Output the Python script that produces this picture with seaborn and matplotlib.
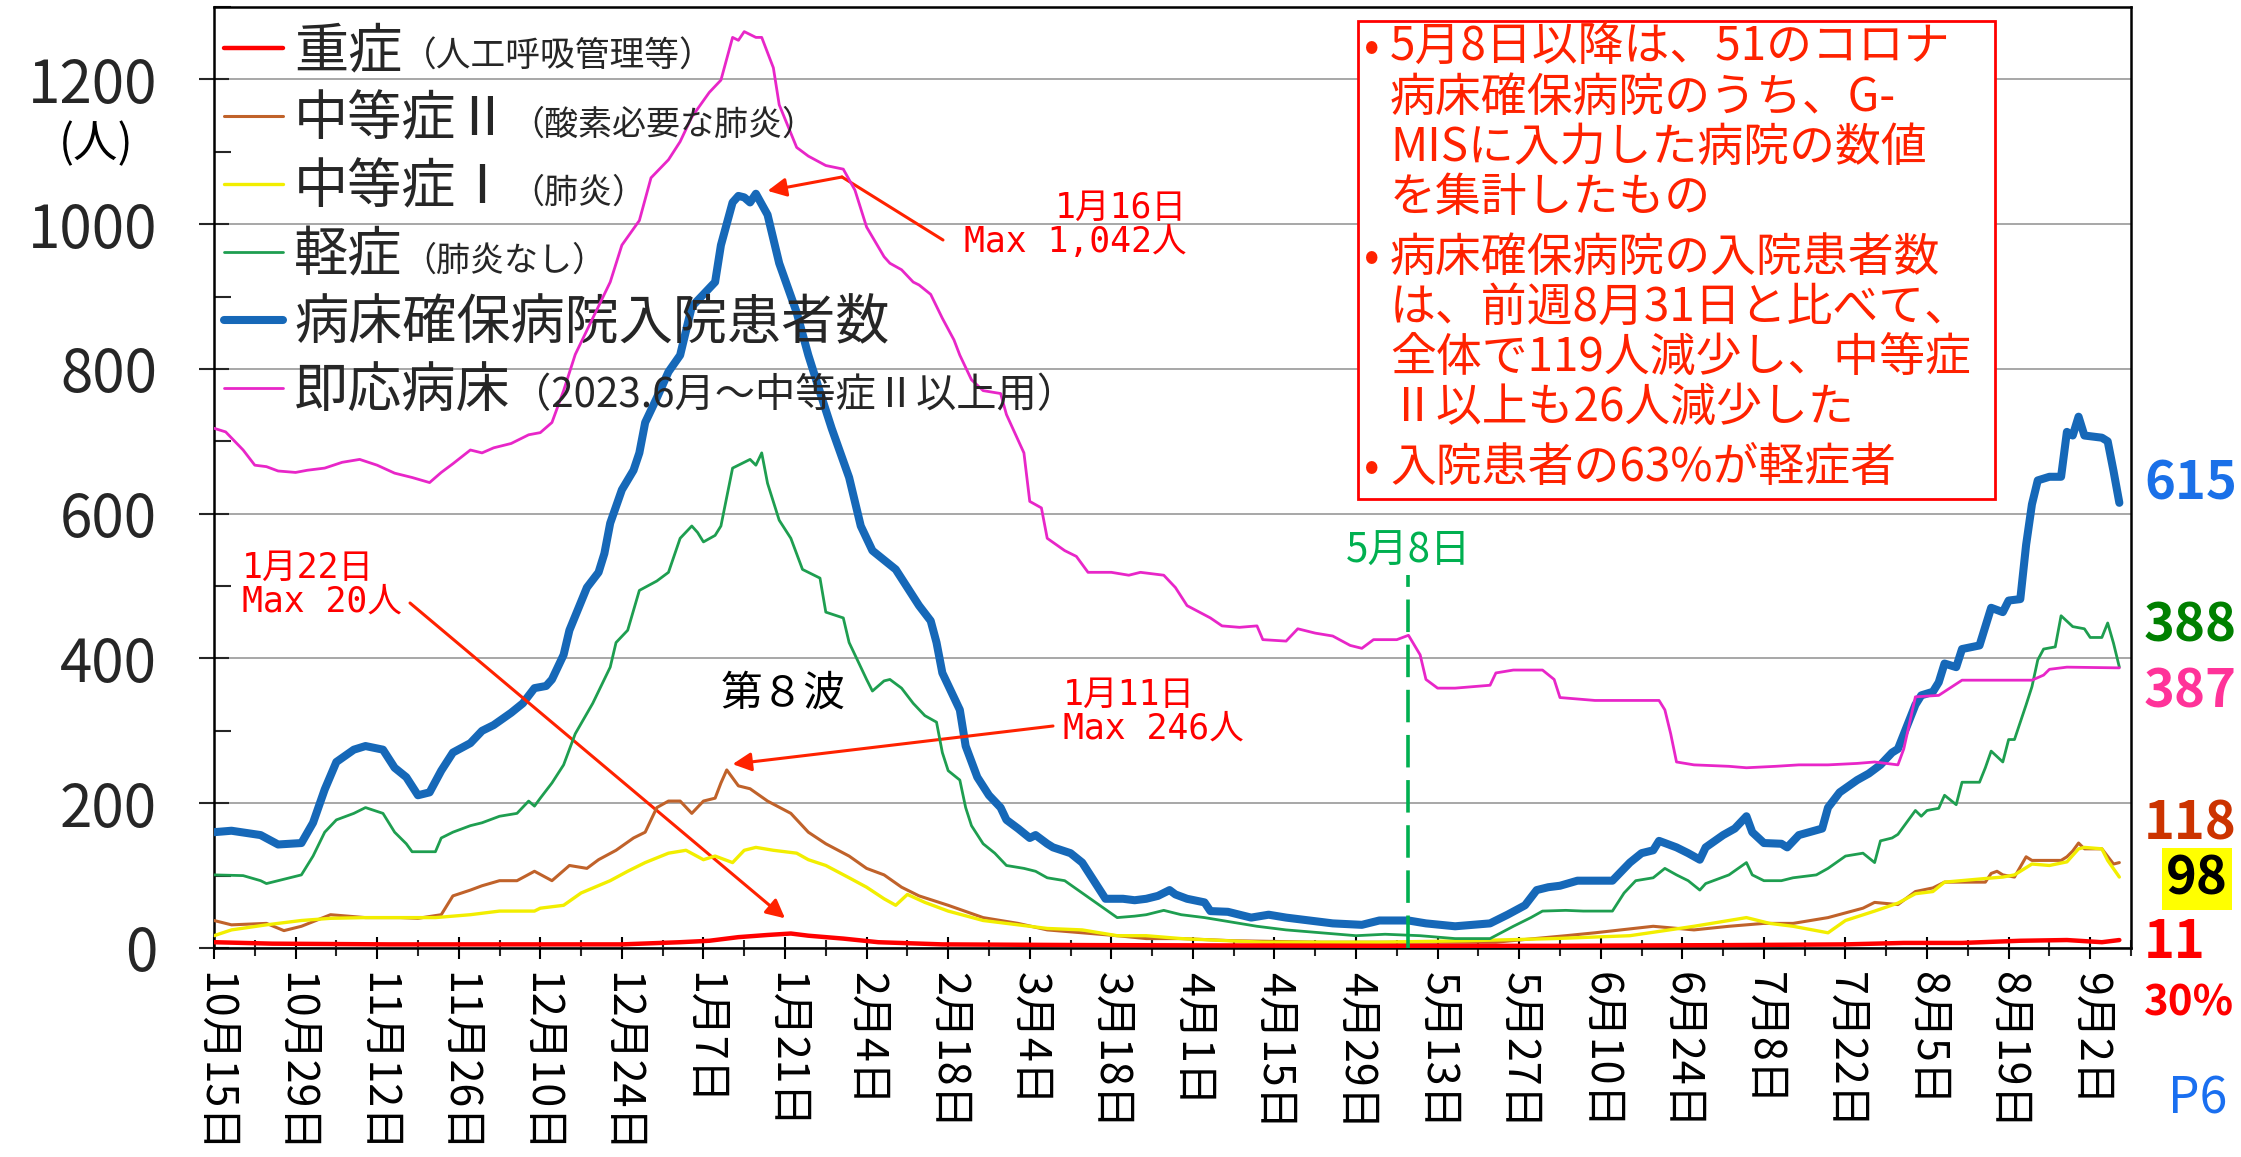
import numpy as np
import pandas as pd
import matplotlib
matplotlib.use("Agg")
import matplotlib.pyplot as plt
from matplotlib import font_manager
from matplotlib.patches import Rectangle
from matplotlib.transforms import IdentityTransform
import seaborn as sns

# 横軸: 2022年10月15日からの経過日数, 縦軸: 入院患者数(人) - グラフから読み取り
tick_labels = ["10月15日", "10月29日", "11月12日", "11月26日", "12月10日", "12月24日",
               "1月7日", "1月21日", "2月4日", "2月18日", "3月4日", "3月18日",
               "4月1日", "4月15日", "4月29日", "5月13日", "5月27日", "6月10日",
               "6月24日", "7月8日", "7月22日", "8月5日", "8月19日", "9月2日"]

# 重症
severe_day = [0, 10, 30, 56, 70, 80, 85, 90, 95, 99, 102, 108, 114, 125, 150, 200,
              230, 260, 280, 290, 300, 310, 318, 324, 327]
severe_val = [8, 6, 5, 5, 5, 8, 10, 15, 18, 20, 17, 13, 8, 5, 4, 3,
              3, 4, 5, 7, 7, 10, 11, 8, 11]

# 中等症Ⅱ
mod2_day = [0, 3, 9, 12, 15, 20, 26, 32, 35, 39, 41, 44, 46, 49, 52, 55, 58, 61, 64, 66,
            69, 72, 74, 76, 78, 80, 82, 84, 86, 87, 88, 90, 92, 95, 99, 102, 105, 109, 112,
            115, 118, 121, 126, 132, 138, 143, 149, 155, 160, 166, 175, 190, 205, 220, 232,
            237, 247, 254, 260, 266, 271, 277, 283, 285, 289, 292, 295, 297, 304, 305, 306,
            307, 309, 311, 312, 317, 318, 319, 320, 321, 324, 326, 327]
mod2_val = [38, 32, 34, 24, 30, 46, 42, 42, 41, 46, 72, 80, 86, 93, 93, 106, 93, 114, 110, 122,
            135, 152, 160, 194, 203, 203, 186, 203, 207, 228, 246, 224, 220, 203, 186, 160, 144, 127, 110,
            101, 84, 72, 59, 42, 34, 25, 21, 17, 13, 13, 10, 8, 8, 8, 17,
            21, 30, 25, 30, 34, 34, 42, 55, 63, 60, 78, 83, 91, 91, 103, 106,
            101, 98, 126, 121, 121, 126, 134, 145, 137, 137, 116, 118]

# 中等症Ⅰ
mod1_day = [0, 3, 9, 15, 20, 26, 32, 38, 44, 49, 55, 56, 60, 63, 68, 71, 74, 78, 81, 84,
            86, 89, 91, 93, 96, 100, 102, 105, 109, 112, 115, 117, 119, 122, 126, 132, 138,
            143, 149, 155, 160, 166, 174, 180, 200, 215, 230, 243, 254, 260, 263, 267, 271,
            277, 280, 285, 289, 292, 295, 297, 304, 307, 309, 312, 315, 318, 320, 321, 324,
            325, 327]
mod1_val = [17, 25, 32, 38, 41, 42, 42, 42, 46, 51, 51, 55, 59, 76, 93, 106, 118, 131, 135, 122,
            127, 118, 135, 139, 135, 131, 122, 114, 97, 84, 68, 59, 74, 63, 51, 38, 32,
            27, 25, 17, 17, 13, 10, 8, 8, 10, 13, 17, 30, 38, 42, 34, 30,
            21, 38, 51, 62, 75, 78, 91, 96, 98, 101, 116, 114, 119, 137, 139, 137,
            121, 98]

# 軽症
mild_day = [0, 5, 8, 9, 11, 15, 17, 19, 21, 24, 26, 29, 31, 33, 34, 38, 39, 41, 44, 46,
            49, 52, 54, 55, 56, 58, 60, 62, 65, 68, 69, 71, 73, 76, 78, 80, 82, 83, 84, 86,
            87, 89, 91, 92, 93, 94, 95, 97, 99, 101, 104, 105, 108, 109, 112, 113, 115, 116,
            118, 120, 122, 124, 125, 126, 128, 129, 130, 132, 134, 136, 139, 141, 143, 146,
            149, 152, 155, 158, 160, 163, 166, 170, 173, 179, 184, 190, 196, 201, 207, 213,
            219, 223, 226, 228, 232, 235, 240, 242, 244, 247, 249, 251, 253, 255, 256, 260,
            263, 264, 266, 269, 271, 275, 277, 280, 283, 285, 286, 288, 289, 292, 293, 294,
            296, 297, 299, 300, 303, 304, 305, 307, 308, 309, 311, 312, 313, 314, 316, 317,
            319, 321, 322, 324, 325, 326, 327]
mild_val = [101, 100, 93, 89, 93, 101, 127, 160, 177, 186, 194, 186, 160, 144, 133, 133, 152, 160, 169, 173,
            182, 186, 203, 196, 207, 228, 253, 296, 338, 388, 422, 439, 494, 507, 519, 566, 583, 574, 561, 570,
            583, 663, 671, 675, 667, 684, 642, 591, 566, 523, 511, 464, 456, 422, 371, 355, 369, 371,
            359, 338, 321, 312, 270, 245, 232, 194, 169, 144, 131, 114, 110, 106, 97, 93,
            76, 59, 42, 44, 46, 52, 46, 42, 38, 30, 25, 21, 17, 19, 17, 13,
            13, 30, 42, 51, 52, 51, 51, 76, 93, 97, 110, 101, 93, 80, 89, 101,
            118, 101, 93, 93, 97, 101, 110, 127, 131, 118, 148, 152, 157, 190, 182, 190,
            193, 211, 198, 229, 229, 249, 272, 257, 288, 288, 336, 361, 398, 413, 416, 459,
            444, 441, 429, 429, 449, 421, 388]

# 病床確保病院入院患者数
total_day = [0, 3, 8, 11, 15, 17, 19, 21, 24, 26, 29, 31, 33, 35, 37, 39, 41, 44, 46, 48,
             51, 53, 55, 57, 58, 60, 61, 64, 66, 67, 68, 70, 72, 73, 74, 76, 78, 80, 82, 84,
             86, 87, 89, 90, 91, 92, 93, 95, 97, 100, 102, 104, 106, 109, 111, 113, 115, 117,
             119, 121, 123, 124, 125, 127, 128, 129, 131, 133, 135, 136, 138, 140, 141, 143,
             144, 147, 149, 151, 153, 156, 158, 160, 162, 164, 165, 167, 170, 171, 174, 178,
             181, 184, 188, 192, 197, 200, 205, 208, 213, 219, 222, 225, 227, 229, 231, 234,
             240, 243, 245, 247, 248, 251, 253, 255, 256, 259, 261, 263, 264, 266, 269, 270,
             272, 276, 277, 279, 282, 284, 286, 288, 289, 292, 293, 295, 296, 297, 299, 300,
             303, 305, 307, 308, 310, 311, 312, 313, 315, 317, 318, 319, 320, 321, 324, 325,
             326, 327]
total_val = [160, 162, 156, 143, 145, 173, 219, 257, 274, 279, 274, 249, 236, 211, 215, 245, 270, 283, 300, 308,
             325, 338, 359, 362, 371, 405, 439, 498, 519, 545, 587, 633, 660, 684, 726, 760, 796, 819, 886, 903,
             920, 971, 1030, 1039, 1037, 1030, 1042, 1013, 946, 878, 819, 768, 718, 650, 583, 549, 536, 523,
             498, 473, 452, 422, 380, 346, 329, 279, 236, 211, 194, 177, 165, 152, 156, 144,
             139, 131, 118, 93, 68, 68, 66, 68, 72, 80, 74, 68, 63, 51, 50, 42,
             46, 42, 38, 34, 32, 38, 38, 34, 30, 34, 46, 59, 80, 84, 86, 93,
             93, 118, 131, 135, 148, 139, 131, 122, 139, 156, 165, 182, 160, 145, 144, 139,
             156, 165, 194, 215, 232, 241, 253, 270, 275, 336, 349, 354, 367, 393, 388, 413,
             418, 470, 464, 480, 482, 557, 613, 646, 651, 651, 713, 708, 734, 708, 705, 700,
             659, 615]

# 即応病床
beds_day = [0, 2, 5, 7, 9, 11, 14, 16, 19, 22, 25, 28, 31, 34, 37, 39, 41, 44, 46, 48,
            51, 54, 56, 58, 60, 62, 65, 68, 70, 73, 75, 78, 80, 82, 85, 87, 89, 90, 91, 93,
            94, 96, 97, 100, 102, 105, 108, 110, 112, 115, 116, 118, 120, 121, 123, 125, 127,
            128, 130, 132, 135, 136, 139, 140, 142, 143, 146, 148, 150, 154, 157, 159, 163,
            165, 167, 171, 173, 176, 179, 180, 184, 186, 189, 192, 195, 197, 199, 203, 205,
            207, 208, 210, 213, 216, 219, 220, 223, 228, 230, 231, 237, 248, 249, 250, 251,
            254, 260, 263, 268, 272, 277, 282, 285, 289, 290, 292, 296, 300, 312, 314, 315,
            318, 327]
beds_val = [718, 713, 688, 667, 665, 659, 657, 660, 663, 671, 675, 667, 656, 650, 643, 657, 669, 688, 684, 691,
            697, 709, 712, 726, 770, 820, 870, 920, 971, 1005, 1064, 1089, 1114, 1148, 1182, 1199, 1258, 1254, 1266, 1258,
            1258, 1216, 1165, 1106, 1094, 1081, 1076, 1047, 996, 955, 946, 937, 920, 916, 903, 870, 840,
            819, 785, 770, 766, 737, 684, 617, 608, 566, 549, 541, 519, 519, 515, 519, 515,
            498, 473, 456, 445, 443, 445, 426, 424, 441, 435, 431, 418, 414, 426, 426, 432,
            405, 371, 359, 359, 361, 363, 380, 384, 384, 371, 346, 342, 342, 329, 296, 257,
            253, 251, 249, 251, 253, 253, 255, 257, 253, 275, 347, 349, 370, 370, 377, 385,
            388, 387]

may8_day = 205

series_main = ["重症", "中等症Ⅱ", "中等症Ⅰ", "軽症", "病床確保病院入院患者数", "即応病床"]
series_sub = ["（人工呼吸管理等）", "（酸素必要な肺炎）", "（肺炎）", "（肺炎なし）", "",
              "（2023.6月～中等症Ⅱ以上用）"]
series_days = [severe_day, mod2_day, mod1_day, mild_day, total_day, beds_day]
series_vals = [severe_val, mod2_val, mod1_val, mild_val, total_val, beds_val]

end_labels = ["615", "388", "387", "118", "98", "11", "30%"]

box_items = [["5月8日以降は、51のコロナ", "病床確保病院のうち、G-", "MISに入力した病院の数値", "を集計したもの"],
             ["病床確保病院の入院患者数", "は、前週8月31日と比べて、", "全体で119人減少し、中等症", "Ⅱ以上も26人減少した"],
             ["入院患者の63%が軽症者"]]


# ---- 見た目の設定 ----
sns.set_theme(style="ticks")
plt.rcParams["font.family"] = ["Noto Sans CJK JP", "DejaVu Sans"]
plt.rcParams["axes.unicode_minus"] = False


def pick_font(names):
    for n in names:
        try:
            font_manager.findfont(font_manager.FontProperties(family=n), fallback_to_default=False)
            return n
        except Exception:
            continue
    return None


NARROW = pick_font(["Liberation Sans Narrow"])
num_font = NARROW if NARROW else "Noto Sans CJK JP"
num_scale = 1.0 if NARROW else 0.84

W, H = 2241, 1157


def fx(x):
    return x / W


def fy(y):
    return 1 - y / H


fig = plt.figure(figsize=(W / 100, H / 100), dpi=100)
fig.patch.set_facecolor("white")
ax = fig.add_axes([fx(214), fy(948), (2131 - 214) / W, (948 - 7) / H])

colors = ["#ff0000", "#c0622a", "#f2ee00", "#1e9e50", "#1668b8", "#e826c8"]
widths = [3.2, 2.2, 2.4, 2.0, 5.8, 2.0]
zorders = [8, 4, 5, 6, 3, 7]

for name, d, v, c, lw, z in zip(series_main, series_days, series_vals, colors, widths, zorders):
    df = pd.DataFrame({"day": d, "人数": v})
    sns.lineplot(data=df, x="day", y="人数", color=c, linewidth=lw, label=name, ax=ax,
                 zorder=z)

ax.set_xlim(0, 329.0)
ax.set_ylim(0, 1300)
ax.set_xlabel("")
ax.set_ylabel("")

ax.set_xticks(np.arange(0, 323, 14))
ax.set_xticklabels(tick_labels, rotation=-90, fontsize=31)
ax.set_xticks(np.arange(0, 330, 7), minor=True)
ax.set_yticks(np.arange(0, 1201, 200))
ax.set_yticklabels([str(t) for t in range(0, 1201, 200)], fontsize=50 * num_scale,
                   fontfamily=num_font)
ax.set_yticks(np.arange(0, 1301, 100), minor=True)

ax.tick_params(axis="x", which="major", direction="inout", length=16, width=1.5, pad=9,
               colors="black")
ax.tick_params(axis="x", which="minor", direction="inout", length=12, width=1.5)
ax.tick_params(axis="y", which="major", direction="inout", length=22, width=1.5, pad=30)
ax.tick_params(axis="y", which="minor", direction="in", length=12, width=1.5)

ax.yaxis.grid(True, which="major", color="#a0a0a0", linewidth=1.3)
ax.set_axisbelow(True)
for s in ax.spines.values():
    s.set_color("black")
    s.set_linewidth(1.8)

# 凡例
handles, labels = ax.get_legend_handles_labels()
leg = ax.legend(handles, labels, loc="upper left", bbox_to_anchor=(0.005, 0.982),
                frameon=False, fontsize=39, handlelength=1.1, handletextpad=0.2,
                labelspacing=0.24, borderpad=0, borderaxespad=0)

# 5月8日の縦線
ax.vlines(may8_day, 0, 515, colors="#00b050", linestyles=(0, (9, 3.5)), linewidth=2.6,
          zorder=9)
ax.text(may8_day, 548, "5月8日", color="#00b050", fontsize=29, ha="center", va="center")
ax.text(97.7, 350, "第８波", color="black", fontsize=30, ha="center", va="center")

# 注記(最大値)
ann_font = ["DejaVu Sans Mono", "Noto Sans CJK JP"]
red = "#ff2200"


def peak(days, vals):
    i = int(np.argmax(vals))
    return days[i], vals[i]


pd_total, pv_total = peak(total_day, total_val)
pd_mod2, pv_mod2 = peak(mod2_day, mod2_val)
pd_sev, pv_sev = peak(severe_day, severe_val)

fig.text(fx(1187), fy(225), "1月16日\nMax 1,042人", color="#ff0000", fontsize=25,
         family=ann_font, ha="right", va="center", multialignment="right", linespacing=1.0)
fig.text(fx(1063), fy(712), "1月11日\nMax 246人", color="#ff0000", fontsize=25,
         family=ann_font, ha="left", va="center", linespacing=1.0)
fig.text(fx(242), fy(585), "1月22日\nMax 20人", color="#ff0000", fontsize=25,
         family=ann_font, ha="left", va="center", linespacing=1.0)

arrow = dict(arrowstyle="-|>", color=red, lw=2.2, mutation_scale=28, shrinkA=0, shrinkB=0)
ax.annotate("", xy=(842, H - 177), xycoords="figure pixels", xytext=(943, H - 240),
            textcoords="figure pixels",
            arrowprops=dict(arrowstyle="-", color=red, lw=2.2, shrinkA=0, shrinkB=0))
ax.annotate("", xy=(pd_total + 2, pv_total + 4), xytext=(842, H - 177),
            textcoords="figure pixels", arrowprops=arrow)
ax.annotate("", xy=(pd_mod2 + 1, pv_mod2 + 8), xytext=(1053, H - 726),
            textcoords="figure pixels", arrowprops=arrow)
ax.annotate("", xy=(pd_sev - 1, pv_sev + 21), xytext=(410, H - 603),
            textcoords="figure pixels", arrowprops=arrow)

# 説明ボックス
fig.add_artist(Rectangle((fx(1358), fy(499)), (1995 - 1358) / W, (499 - 21) / H,
                         transform=fig.transFigure, facecolor="white", edgecolor="#ff0000",
                         linewidth=2, zorder=5))
row = 0
for p, lines in enumerate(box_items):
    for k, line in enumerate(lines):
        y = 48 + 50 * row + 10 * p
        if k == 0:
            fig.text(fx(1372), fy(y), "•", color=red, fontsize=33, ha="center", va="center",
                     zorder=6)
        fig.text(fx(1390), fy(y), line, color=red, fontsize=33, ha="left", va="center",
                 zorder=6)
        row += 1

# 右側の数値
end_colors = ["#1a70e8", "#008000", "#ff3399", "#cc3300", "black", "#ff0000", "#ff0000"]
end_y = [484, 626, 692, 824, 879, 942, 1003]
end_size = [45, 45, 45, 45, 45, 45, 36]
for txt, c, y, s in zip(end_labels, end_colors, end_y, end_size):
    if txt == "98":
        fig.text(fx(2228), fy(y), txt, color=c, fontsize=s * num_scale, fontweight="bold",
                 family=num_font, ha="right", va="center",
                 bbox=dict(boxstyle="square,pad=0.08", facecolor="#ffff00", edgecolor="none"))
    else:
        fig.text(fx(2144), fy(y), txt, color=c, fontsize=s * num_scale, fontweight="bold",
                 family=num_font, ha="left", va="center")

fig.text(fx(2198), fy(1100), "P6", color="#1a6ff0", fontsize=36, ha="center", va="center")
fig.text(fx(96), fy(144), "(人)", color="black", fontsize=32, ha="center", va="center")

# 凡例の括弧書き(小さい文字)
fig.canvas.draw()
renderer = fig.canvas.get_renderer()
sub_sizes = [25, 24.5, 24.5, 24.5, 25, 29]
for t, sub, fs in zip(leg.get_texts(), series_sub, sub_sizes):
    if not sub:
        continue
    bb = t.get_window_extent(renderer)
    x0, y0 = t.get_transform().transform((0, 0))
    fig.text(bb.x1, y0, sub, fontsize=fs, ha="left", va="baseline",
             transform=IdentityTransform())

fig.savefig("out.png", dpi=100, facecolor="white")
